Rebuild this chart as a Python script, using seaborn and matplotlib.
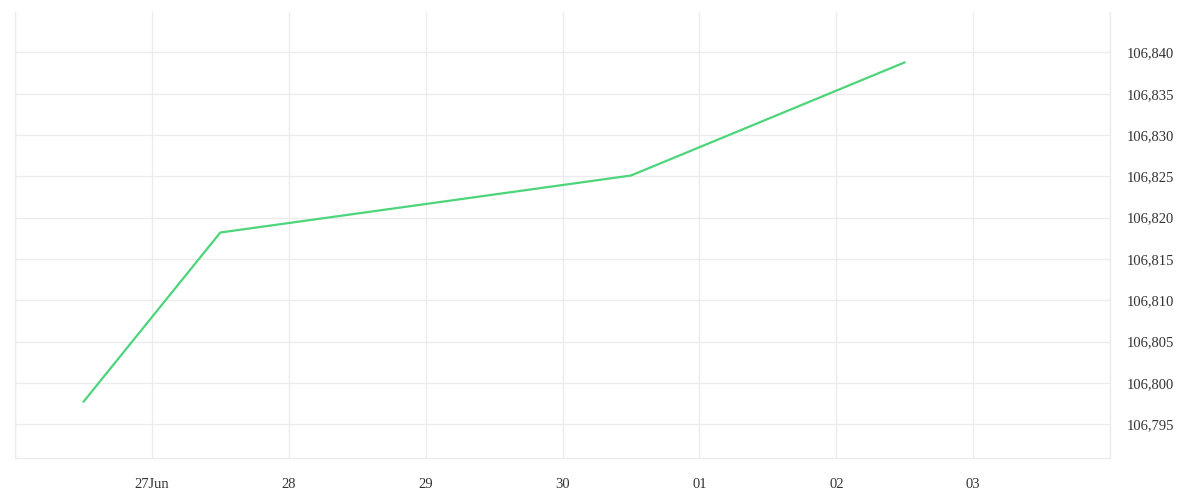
import matplotlib
matplotlib.use("Agg")
import matplotlib.pyplot as plt
from matplotlib.ticker import FuncFormatter
import seaborn as sns
import pandas as pd

# Data
dates = ["2024-06-26 12:00", "2024-06-27 12:00", "2024-06-30 12:00", "2024-07-02 12:00"]
values = [106797.7, 106818.2, 106825.1, 106838.8]
tick_days = ["2024-06-26", "2024-06-27", "2024-06-28", "2024-06-29", "2024-06-30",
             "2024-07-01", "2024-07-02", "2024-07-03", "2024-07-04"]
tick_labels = ["", "27Jun", "28", "29", "30", "01", "02", "03", ""]
y_ticks = [106795, 106800, 106805, 106810, 106815, 106820, 106825, 106830, 106835, 106840]

df = pd.DataFrame({"date": pd.to_datetime(dates), "value": values})

sns.set_theme(style="white")
plt.rcParams['font.family'] = ['Liberation Serif', 'DejaVu Serif']

fig = plt.figure(figsize=(12, 5), dpi=100)
ax = fig.add_axes([15/1200, 42/500, 1095/1200, 446/500])

grid_c = "#ececec"
sns.lineplot(data=df, x="date", y="value", ax=ax, color="#4cd57a", linewidth=1.6)

tdays = pd.to_datetime(tick_days)
ax.set_xlim(tdays[0], tdays[-1])
ax.set_ylim(106790.9, 106844.9)
ax.set_xticks(tdays)
ax.set_xticklabels(tick_labels)
ax.set_yticks(y_ticks)
ax.yaxis.set_major_formatter(FuncFormatter(lambda v, p: f"{v:,.0f}"))
ax.yaxis.tick_right()

ax.grid(True, color=grid_c, linewidth=1)
ax.set_axisbelow(True)
for s in ["left", "right", "bottom"]:
    ax.spines[s].set_color(grid_c)
    ax.spines[s].set_linewidth(1)
ax.spines["top"].set_visible(False)

ax.tick_params(axis="x", length=7.2, color=grid_c, width=1, pad=7, labelsize=10.5, labelcolor="#333333")
ax.tick_params(axis="y", length=0, pad=12, labelsize=10.5, labelcolor="#333333")
ax.set_xlabel("")
ax.set_ylabel("")

fig.savefig("out.png", dpi=100, facecolor="white")
